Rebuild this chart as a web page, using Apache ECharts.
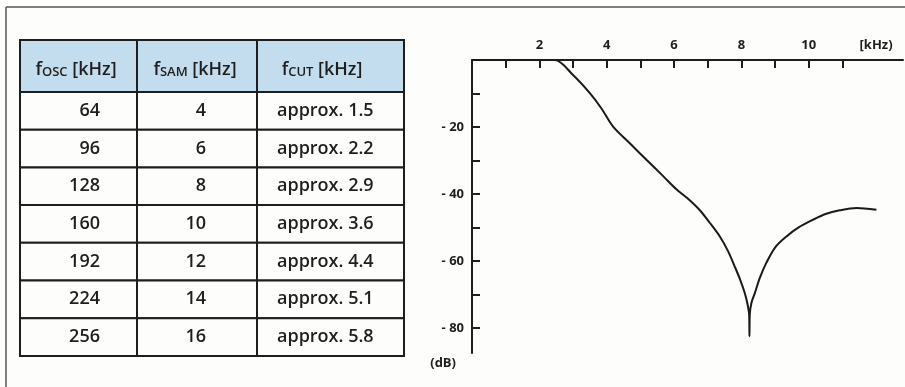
<!DOCTYPE html>
<html>
<head>
<meta charset="utf-8">
<script src="https://cdn.jsdelivr.net/npm/echarts@6/dist/echarts.min.js"></script>
<style>
    html, body { margin: 0; padding: 0; background: #fdfdfb; }
    #main { width: 905px; height: 387px; }
</style>
</head>
<body>
<div id="main"></div>
<script>
// table contents
const headerSymbols = ['f', 'f', 'f'];
const headerSubs = ['OSC', 'SAM', 'CUT'];
const headerUnits = [' [kHz]', ' [kHz]', ' [kHz]'];
const oscFreq = [64, 96, 128, 160, 192, 224, 256];
const samFreq = [4, 6, 8, 10, 12, 14, 16];
const cutFreq = ['approx. 1.5', 'approx. 2.2', 'approx. 2.9', 'approx. 3.6', 'approx. 4.4', 'approx. 5.1', 'approx. 5.8'];

// filter response curve (kHz, dB)
const respFreq = [0, 2.46, 3.0, 3.5, 3.84, 4.19, 4.68, 5.18, 5.67, 6.07, 6.4, 6.76, 7.06, 7.36, 7.6, 7.8, 7.96, 8.1, 8.18, 8.23, 8.24, 8.25, 8.3, 8.4, 8.55, 8.74, 9.0, 9.34, 9.7, 10.13, 10.5, 10.92, 11.42, 12.01];
const respDb   = [0, 0, -4.5, -9.9, -14.4, -19.9, -24.8, -29.8, -34.6, -38.6, -41.3, -44.8, -48.6, -52.7, -57.0, -61.6, -65.5, -69.6, -72.8, -76.0, -82.5, -76.0, -72.5, -69.6, -65.0, -60.6, -56.0, -52.7, -50.0, -47.7, -46.0, -44.9, -44.2, -44.7];

// axis ticks / labels
const xTicks = [1, 2, 3, 4, 5, 6, 7, 8, 9, 10, 11];
const xLabels = [2, 4, 6, 8, 10, 12];
const yTicks = [-10, -20, -30, -40, -50, -60, -70, -80];
const yLabels = [-20, -40, -60, -80];

// ---- layout (pixels inside the table grid) ----
const colEdges = [0, 117, 237, 384];
const headerH = 52;
const rowH = 37.7;
const rowEdges = [0, headerH];
for (let i = 1; i <= oscFreq.length; i++) rowEdges.push(headerH + rowH * i);
// text anchor per column: [offset from column left, align]
const cellAnchor = [[80, 'right'], [69, 'right'], [20, 'left']];
const headCenter = [56, 58, 65];

const txtFont = '"Open Sans", "DejaVu Sans", sans-serif';
const ink = '#1e1e1e';

const cells = [];
for (let c = 0; c < 3; c++) cells.push([c, 0, '']);
oscFreq.forEach((v, i) => {
    cells.push([0, i + 1, String(v)]);
    cells.push([1, i + 1, String(samFreq[i])]);
    cells.push([2, i + 1, cutFreq[i]]);
});

const renderCell = function (params, api) {
    const c = api.value(0), r = api.value(1);
    const p0 = api.coord([colEdges[c], rowEdges[r]]);
    const p1 = api.coord([colEdges[c + 1], rowEdges[r + 1]]);
    const rect = {
        type: 'rect',
        shape: { x: p0[0], y: p0[1], width: p1[0] - p0[0], height: p1[1] - p0[1] },
        style: { fill: r === 0 ? '#c3dcee' : '#fdfdfb', stroke: ink, lineWidth: 2 }
    };
    let text;
    if (r === 0) {
        text = {
            type: 'text',
            style: {
                text: '{f|' + headerSymbols[c] + '}{s|' + headerSubs[c] + '}{f|' + headerUnits[c] + '}',
                x: p0[0] + headCenter[c], y: (p0[1] + p1[1]) / 2 + 2,
                align: 'center', verticalAlign: 'middle',
                rich: {
                    f: { fontSize: 18, fontWeight: 600, fontFamily: txtFont, fill: ink, lineHeight: 22, verticalAlign: 'bottom' },
                    s: { fontSize: 13, fontWeight: 600, fontFamily: txtFont, fill: ink, lineHeight: 16, verticalAlign: 'bottom' }
                }
            }
        };
    } else {
        const a = cellAnchor[c];
        text = {
            type: 'text',
            style: {
                text: cells[params.dataIndex][2],
                x: p0[0] + a[0], y: (p0[1] + p1[1]) / 2,
                align: a[1], verticalAlign: 'middle',
                font: '600 18px ' + txtFont, fill: ink
            }
        };
    }
    return { type: 'group', children: [rect, text] };
};

const chart = echarts.init(document.getElementById('main'));
const axisCol = '#1e1e1e';
const lblStyle = { color: axisCol, fontFamily: txtFont, fontWeight: 'bold', fontSize: 13 };

chart.setOption({
    backgroundColor: '#fdfdfb',
    animation: false,
    graphic: [
        { type: 'line', shape: { x1: 6, y1: 7, x2: 905, y2: 7 }, style: { stroke: '#555', lineWidth: 1.5 } },
        { type: 'line', shape: { x1: 6, y1: 7, x2: 6, y2: 387 }, style: { stroke: '#555', lineWidth: 1.5 } }
    ],
    grid: [
        { left: 472, top: 60, width: 431, height: 293, outerBoundsMode: 'none' },
        { left: 20, top: 40, width: 384, height: 316, outerBoundsMode: 'none' }
    ],
    xAxis: [
        {
            type: 'value', gridIndex: 0, position: 'top', min: 0, max: 12.8,
            axisLine: { onZero: false, lineStyle: { color: axisCol, width: 2 } },
            axisTick: { inside: true, length: 8, customValues: xTicks, lineStyle: { color: axisCol, width: 2 } },
            axisLabel: {
                customValues: xLabels, margin: 8, ...lblStyle,
                formatter: v => v === 12 ? '[kHz)' : String(v)
            },
            splitLine: { show: false }
        },
        { type: 'value', gridIndex: 1, min: 0, max: 384, show: false }
    ],
    yAxis: [
        {
            type: 'value', gridIndex: 0, min: -87.5, max: 0,
            axisLine: { show: true, onZero: false, lineStyle: { color: axisCol, width: 2 } },
            axisTick: { show: true, inside: true, length: 8, customValues: yTicks, lineStyle: { color: axisCol, width: 2 } },
            axisLabel: {
                customValues: yLabels, margin: 8, ...lblStyle,
                formatter: v => '- ' + Math.abs(v)
            },
            splitLine: { show: false },
            name: '(dB)', nameLocation: 'start', nameGap: 4,
            nameTextStyle: { ...lblStyle, align: 'right', padding: [0, 16, 0, 0] }
        },
        { type: 'value', gridIndex: 1, min: 0, max: 316, inverse: true, show: false }
    ],
    series: [
        {
            type: 'line', xAxisIndex: 0, yAxisIndex: 0,
            data: respFreq.map((f, i) => [f, respDb[i]]),
            showSymbol: false, smooth: 0.3,
            lineStyle: { color: '#1a1a1a', width: 2 }
        },
        {
            type: 'custom', xAxisIndex: 1, yAxisIndex: 1,
            data: cells.map(d => [d[0], d[1]]),
            renderItem: renderCell
        }
    ]
});
</script>
</body>
</html>
